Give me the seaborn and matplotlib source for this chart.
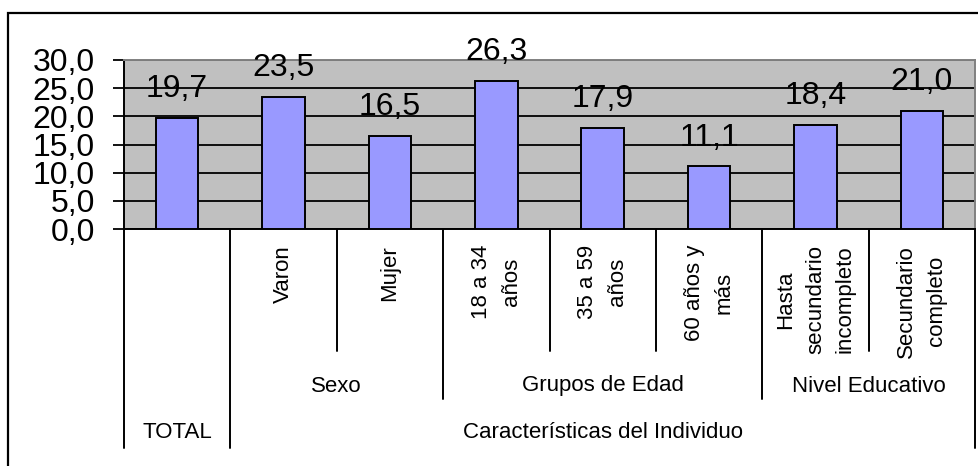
import matplotlib
matplotlib.use("Agg")
import matplotlib.pyplot as plt
import matplotlib.transforms as mtransforms
from matplotlib.patches import Rectangle
from matplotlib.lines import Line2D
import seaborn as sns
import pandas as pd

# Data
categories = ["TOTAL", "Varon", "Mujer", "18 a 34\naños", "35 a 59\naños",
              "60 años y\nmás", "Hasta\nsecundario\nincompleto", "Secundario\ncompleto"]
level1 = ["", "Varon", "Mujer", "18 a 34\naños", "35 a 59\naños",
          "60 años y\nmás", "Hasta\nsecundario\nincompleto", "Secundario\ncompleto"]
level2 = ["", "Sexo", "Sexo", "Grupos de Edad", "Grupos de Edad", "Grupos de Edad",
          "Nivel Educativo", "Nivel Educativo"]
level3 = ["TOTAL"] + ["Características del Individuo"] * 7
values = [19.7, 23.5, 16.5, 26.3, 17.9, 11.1, 18.4, 21.0]
yticks = [0, 5, 10, 15, 20, 25, 30]

df = pd.DataFrame({"cat": categories, "val": values})

sns.set_theme(style="white")
plt.rcParams["font.family"] = ["Liberation Sans", "DejaVu Sans"]

W, H = 979, 466
fig = plt.figure(figsize=(W / 100, H / 100), dpi=100)
fig.patch.set_facecolor("white")

def fx(px):
    return px / W

def fy(py):
    return 1 - py / H

ax = fig.add_axes([fx(124), fy(229), fx(975) - fx(124), fy(60) - fy(229)])
ax.set_facecolor("#C0C0C0")

sns.barplot(data=df, x="cat", y="val", color="#9999FF", saturation=1,
            edgecolor="black", linewidth=1.4, width=0.4, ax=ax, zorder=3)

ax.set_ylim(0, 30)
ax.set_xlim(-0.5, len(categories) - 0.5)
ax.set_yticks(yticks)
ax.set_yticklabels([f"{t:.1f}".replace(".", ",") for t in yticks], fontsize=23)
ax.yaxis.grid(True, color="black", linewidth=1.3, zorder=1)
ax.set_axisbelow(True)
ax.tick_params(axis="y", direction="out", length=8, width=1.3, color="black",
               pad=13, left=True, labelcolor="black")
ax.tick_params(axis="x", bottom=False, labelbottom=False)
ax.set_xlabel("")
ax.set_ylabel("")

for side in ("left", "bottom"):
    ax.spines[side].set_color("black")
    ax.spines[side].set_linewidth(1.4)
for side in ("top", "right"):
    ax.spines[side].set_color("#808080")
    ax.spines[side].set_linewidth(1.4)

# Value labels above bars
ax.bar_label(ax.containers[0],
             labels=[f"{v:.1f}".replace(".", ",") for v in values],
             padding=10, fontsize=23, color="black")

# Multi-level category table below the axis
blend = mtransforms.blended_transform_factory(ax.transData, fig.transFigure)
n = len(categories)
y_top = fy(229)
for b in range(n + 1):
    x = b - 0.5
    if b == 0 or b == n or level3[b - 1] != level3[b]:
        y_end = 448
    elif level2[b - 1] != level2[b]:
        y_end = 399
    else:
        y_end = 351
    fig.add_artist(Line2D([x, x], [y_top, fy(y_end)], transform=blend,
                          color="black", linewidth=1.4))

for i, lab in enumerate(level1):
    if lab:
        fig.text(i, fy(245), lab, transform=blend, rotation=90, ha="center",
                 va="top", multialignment="center", fontsize=16,
                 linespacing=1.55, color="black")

def spans(labels):
    out = []
    start = 0
    for i in range(1, len(labels) + 1):
        if i == len(labels) or labels[i] != labels[start]:
            out.append((labels[start], start, i - 1))
            start = i
    return out

for lab, s, e in spans(level2):
    if lab:
        fig.text((s + e) / 2, fy(386), lab, transform=blend, ha="center",
                 va="center", fontsize=16, color="black")

for lab, s, e in spans(level3):
    fig.text((s + e) / 2, fy(433), lab, transform=blend, ha="center",
             va="center", fontsize=16, color="black")

# Outer chart frame
fig.add_artist(Rectangle((fx(8), -0.2), 1.2, fy(13) + 0.2,
                         transform=fig.transFigure, fill=False,
                         edgecolor="black", linewidth=1.6))

fig.savefig("out.png", dpi=100)
